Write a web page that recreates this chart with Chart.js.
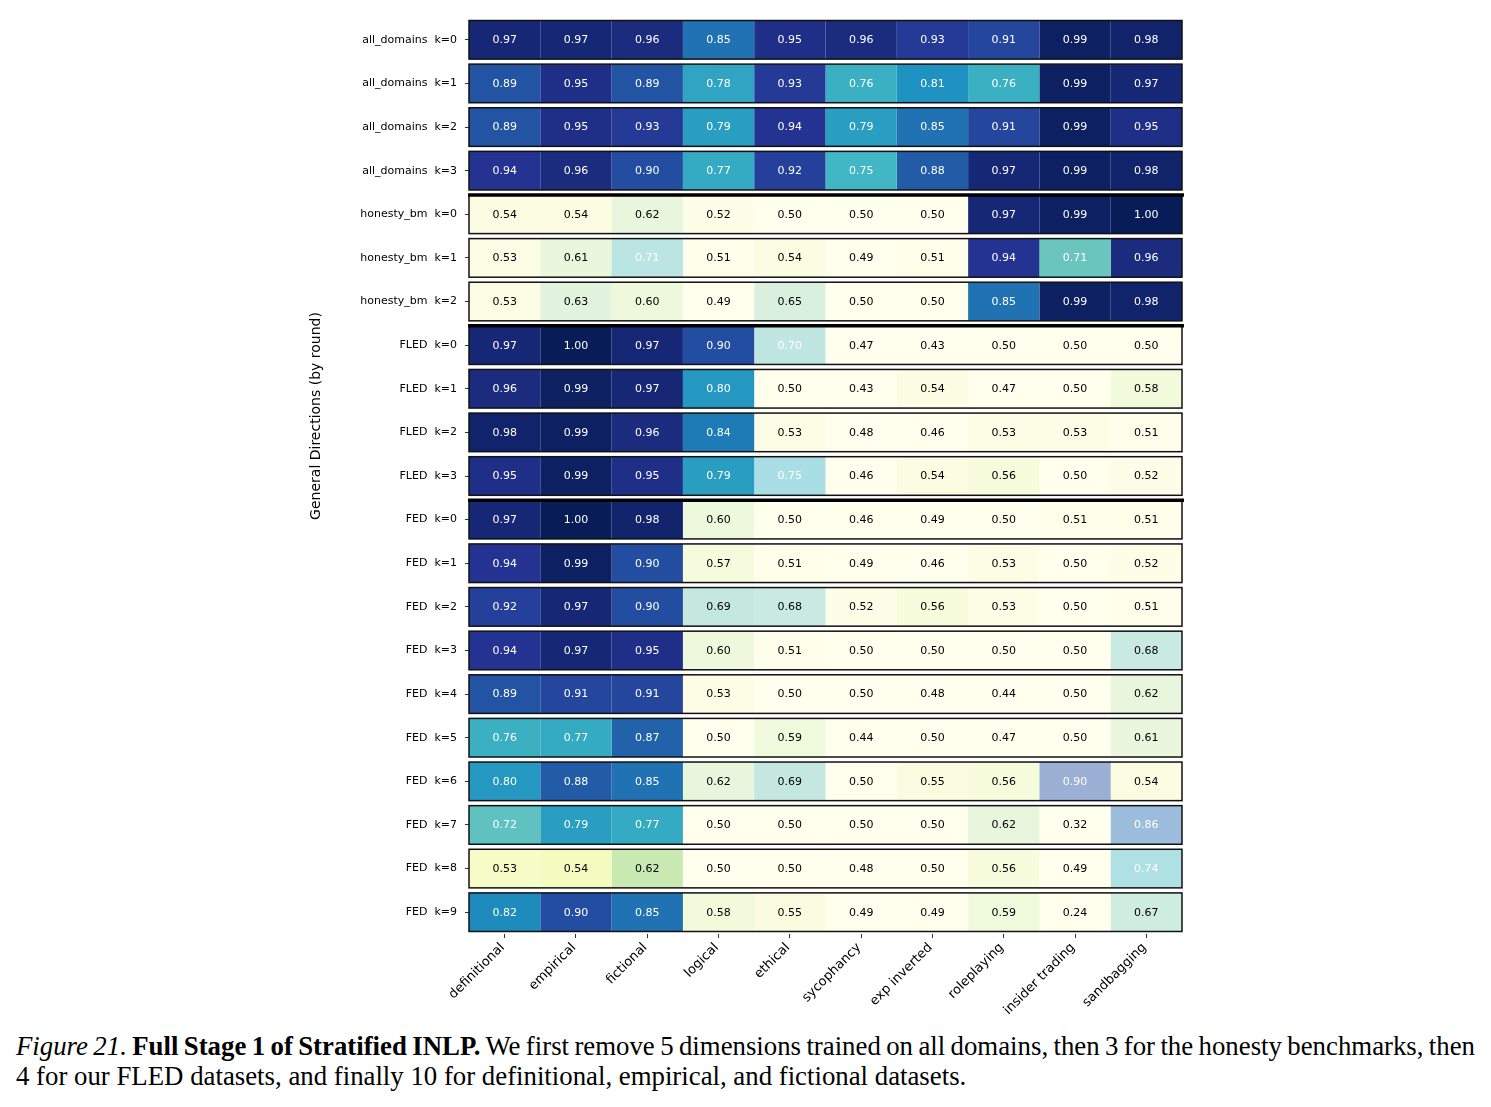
<!DOCTYPE html>
<html>
<head>
<meta charset="utf-8">
<script src="https://cdn.jsdelivr.net/npm/chart.js@4.4.0/dist/chart.umd.min.js"></script>
<style>
  body { margin: 0; background: #fff; }
  #wrap { position: relative; width: 1491px; height: 1107px; }
  #heat { position: absolute; left: 0; top: 0; }
  .caption { position: absolute; left: 16px; width: 1459px; font-family: 'Liberation Serif', 'Times New Roman', serif; font-size: 26.8px; line-height: 30px; color: #000; white-space: nowrap; }
  .line1 { top: 1031px; text-align: justify; text-align-last: justify; word-spacing: -3px; }
  .line2 { top: 1061px; }
</style>
</head>
<body>
<div id="wrap">
<canvas id="heat" width="1491" height="1025"></canvas>
<div class="caption line1"><i>Figure 21.</i> <b>Full Stage 1 of Stratified INLP.</b> We first remove 5 dimensions trained on all domains, then 3 for the honesty benchmarks, then</div>
<div class="caption line2">4 for our FLED datasets, and finally 10 for definitional, empirical, and fictional datasets.</div>
</div>
<script>
// Test datasets (columns)
let columns = ["definitional", "empirical", "fictional", "logical", "ethical", "sycophancy", "exp inverted", "roleplaying", "insider trading", "sandbagging"];

// Direction groups, in order, and the columns each group was trained on
let groups = ["all_domains", "honesty_bm", "FLED", "FED"];
let trainedCols = [[0, 1, 2, 3, 4, 5, 6, 7, 8, 9], [7, 8, 9], [0, 1, 2, 3], [0, 1, 2]];

// Accuracy per round (k = 0, 1, ...) for every group
let allDomains = [
    [0.97, 0.97, 0.96, 0.85, 0.95, 0.96, 0.93, 0.91, 0.99, 0.98],
    [0.89, 0.95, 0.89, 0.78, 0.93, 0.76, 0.81, 0.76, 0.99, 0.97],
    [0.89, 0.95, 0.93, 0.79, 0.94, 0.79, 0.85, 0.91, 0.99, 0.95],
    [0.94, 0.96, 0.90, 0.77, 0.92, 0.75, 0.88, 0.97, 0.99, 0.98]
];
let honestyBm = [
    [0.54, 0.54, 0.62, 0.52, 0.50, 0.50, 0.50, 0.97, 0.99, 1.00],
    [0.53, 0.61, 0.71, 0.51, 0.54, 0.49, 0.51, 0.94, 0.71, 0.96],
    [0.53, 0.63, 0.60, 0.49, 0.65, 0.50, 0.50, 0.85, 0.99, 0.98]
];
let fled = [
    [0.97, 1.00, 0.97, 0.90, 0.70, 0.47, 0.43, 0.50, 0.50, 0.50],
    [0.96, 0.99, 0.97, 0.80, 0.50, 0.43, 0.54, 0.47, 0.50, 0.58],
    [0.98, 0.99, 0.96, 0.84, 0.53, 0.48, 0.46, 0.53, 0.53, 0.51],
    [0.95, 0.99, 0.95, 0.79, 0.75, 0.46, 0.54, 0.56, 0.50, 0.52]
];
let fed = [
    [0.97, 1.00, 0.98, 0.60, 0.50, 0.46, 0.49, 0.50, 0.51, 0.51],
    [0.94, 0.99, 0.90, 0.57, 0.51, 0.49, 0.46, 0.53, 0.50, 0.52],
    [0.92, 0.97, 0.90, 0.69, 0.68, 0.52, 0.56, 0.53, 0.50, 0.51],
    [0.94, 0.97, 0.95, 0.60, 0.51, 0.50, 0.50, 0.50, 0.50, 0.68],
    [0.89, 0.91, 0.91, 0.53, 0.50, 0.50, 0.48, 0.44, 0.50, 0.62],
    [0.76, 0.77, 0.87, 0.50, 0.59, 0.44, 0.50, 0.47, 0.50, 0.61],
    [0.80, 0.88, 0.85, 0.62, 0.69, 0.50, 0.55, 0.56, 0.90, 0.54],
    [0.72, 0.79, 0.77, 0.50, 0.50, 0.50, 0.50, 0.62, 0.32, 0.86],
    [0.53, 0.54, 0.62, 0.50, 0.50, 0.48, 0.50, 0.56, 0.49, 0.74],
    [0.82, 0.90, 0.85, 0.58, 0.55, 0.49, 0.49, 0.59, 0.24, 0.67]
];

let groupValues = [allDomains, honestyBm, fled, fed];

// Flatten into rows
let rowLabels = [], rowValues = [], rowGroup = [];
groupValues.forEach((vals, g) => {
    vals.forEach((row, k) => {
        rowLabels.push(groups[g] + "  k=" + k);
        rowValues.push(row);
        rowGroup.push(g);
    });
});

// YlGnBu colormap stops
let ylGnBu = [[255,255,217],[237,248,177],[199,233,180],[127,205,187],[65,182,196],[29,145,192],[34,94,168],[37,52,148],[8,29,88]];

function cellColor(v, faded) {
    let t = Math.min(Math.max((v - 0.5) / 0.5, 0), 1) * (ylGnBu.length - 1);
    let i = Math.min(Math.floor(t), ylGnBu.length - 2);
    let f = t - i;
    let rgb = ylGnBu[i].map((c, j) => Math.round(c + (ylGnBu[i + 1][j] - c) * f));
    return 'rgba(' + rgb.join(',') + ',' + (faded ? 0.45 : 1) + ')';
}

// one dataset per column, each bar spans one cell
let datasets = columns.map((name, c) => ({
    label: name,
    data: rowLabels.map(() => [c, c + 1]),
    backgroundColor: rowValues.map((row, r) => cellColor(row[c], !trainedCols[rowGroup[r]].includes(c))),
    borderWidth: 0,
    grouped: false,
    barPercentage: 0.885,
    categoryPercentage: 1
}));

// Values, row boxes, group separators and the y title
const heatDecor = {
    id: 'heatDecor',
    afterDatasetsDraw(chart) {
        const ctx = chart.ctx;
        const x = chart.scales.x;
        ctx.save();
        ctx.font = '11px "DejaVu Sans"';
        ctx.textAlign = 'center';
        ctx.textBaseline = 'middle';
        chart.data.datasets.forEach((ds, c) => {
            chart.getDatasetMeta(c).data.forEach((bar, r) => {
                let v = rowValues[r][c];
                ctx.fillStyle = v >= 0.695 ? '#ffffff' : '#000000';
                ctx.fillText(v.toFixed(2), (bar.x + bar.base) / 2, bar.y + 0.5);
            });
        });

        let left = x.getPixelForValue(0);
        let right = x.getPixelForValue(columns.length);
        let bars = chart.getDatasetMeta(0).data;
        ctx.strokeStyle = '#111';
        ctx.lineWidth = 1.5;
        bars.forEach(bar => {
            ctx.strokeRect(left, bar.y - bar.height / 2, right - left, bar.height);
        });

        ctx.strokeStyle = '#000';
        ctx.lineWidth = 3.5;
        bars.forEach((bar, r) => {
            if (r > 0 && rowGroup[r] !== rowGroup[r - 1]) {
                let top = bar.y - bar.height / 2;
                ctx.beginPath();
                ctx.moveTo(left - 1, top);
                ctx.lineTo(right + 2, top);
                ctx.stroke();
            }
        });

        ctx.translate(316, 416);
        ctx.rotate(-Math.PI / 2);
        ctx.fillStyle = '#000';
        ctx.font = '14px "DejaVu Sans"';
        ctx.fillText("General Directions (by round)", 0, 0);
        ctx.restore();
    }
};

new Chart("heat", {
    type: "bar",
    data: {
        labels: rowLabels,
        datasets: datasets
    },
    options: {
        indexAxis: 'y',
        responsive: false,
        animation: false,
        devicePixelRatio: 1,
        layout: { padding: { left: 0, right: 309, top: 18, bottom: 0 } },
        plugins: {
            legend: { display: false },
            tooltip: { enabled: false }
        },
        scales: {
            x: {
                type: 'linear',
                min: 0,
                max: columns.length,
                afterBuildTicks: s => { s.ticks = columns.map((_, i) => ({ value: i + 0.5 })); },
                afterFit: s => { s.height = 1025 - 934; },
                grid: { drawOnChartArea: false, tickLength: 4, color: '#000', lineWidth: 0.8, offset: false },
                border: { display: false },
                ticks: {
                    autoSkip: false,
                    minRotation: 45,
                    maxRotation: 45,
                    padding: 2,
                    labelOffset: -2,
                    color: '#000',
                    font: { family: 'DejaVu Sans', size: 13 },
                    callback: (v, i) => columns[i]
                }
            },
            y: {
                afterFit: s => { s.width = 469; },
                grid: { drawOnChartArea: false, tickLength: 4, color: '#000', lineWidth: 0.8, offset: false },
                border: { display: false },
                ticks: {
                    padding: 8,
                    color: '#000',
                    font: { family: 'DejaVu Sans', size: 11 }
                }
            }
        }
    },
    plugins: [heatDecor]
});
</script>
</body>
</html>
